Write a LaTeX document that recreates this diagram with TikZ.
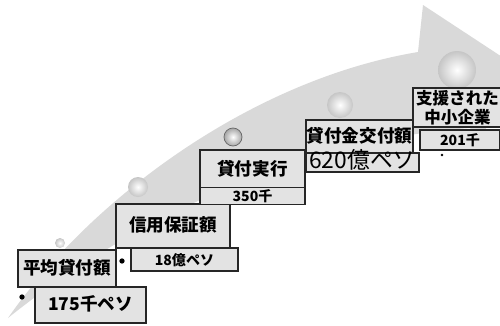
\documentclass[tikz,border=0pt]{standalone}
\usepackage{fontspec}
\setmainfont{Noto Sans CJK JP}

\begin{document}
\begin{tikzpicture}[x=0.02cm,y=-0.02cm,
	feld/.style={draw=black!85, line width=0.6pt, fill=gray!22,
	inner sep=0pt, outer sep=0pt, text height=1.5ex, text depth=.25ex,
	font=\bfseries\fontsize{10}{11}\selectfont},
	kugel/.style={shading=radial, inner color=white, outer color=gray!45},
	punkt/.style={fill=black, circle, minimum size=3pt, inner sep=0pt}]
\useasboundingbox (0,0) rectangle (500,325);
%Pfeil zeichnen
\fill [gray!30] (8,318) .. controls (90,200) and (250,80) .. (418,52)
	-- (423,5) -- (525,72) -- (478,140) -- (470,128)
	.. controls (300,140) and (130,220) .. (8,318) -- cycle;
%Kugeln auf dem Pfeil
\foreach \x/\y/\r in {60/243/5, 138/187/10, 340/105/13, 457/70/19}
\shade [kugel] (\x,\y) circle [radius=\r];
\shade [kugel, outer color=gray!70, draw=black!60] (233,137) circle [radius=9];
%Stufen einzeichnen:
\node [feld, minimum width=1.96cm, minimum height=0.74cm, name=avg] at (67,268.5) {平均貸付額};
\node [feld, minimum width=2.22cm, minimum height=0.72cm, name=avgwert] at (90.5,305) {175千ペソ};
\node [feld, minimum width=2.28cm, minimum height=0.88cm, name=garantie] at (173,226) {信用保証額};
\node [feld, minimum width=2.14cm, minimum height=0.46cm, name=garantiewert,
	font=\bfseries\fontsize{8}{9}\selectfont] at (184.5,259.5) {18億ペソ};
\node [feld, minimum width=2.10cm, minimum height=0.80cm, name=kredit] at (252.5,170) {貸付実行};
\node [feld, minimum width=2.10cm, minimum height=0.24cm, name=kreditwert,
	font=\bfseries\fontsize{8}{9}\selectfont] at (252.5,196) {350千};
\node [feld, minimum width=2.14cm, minimum height=0.66cm, name=auszahlung] at (359.5,136.5) {貸付金交付額};
\node [feld, minimum width=2.26cm, minimum height=0.38cm, name=auszahlungwert,
	font=\fontsize{13}{14}\selectfont] at (362.5,162.5) {620億ペソ};
\node [feld, minimum width=1.78cm, minimum height=0.78cm, align=center, text height=, text depth=,
	font=\bfseries\fontsize{9.4}{10.6}\selectfont,
	name=kmu] at (457.5,107.5) {支援された\\中小企業};
\node [feld, minimum width=1.60cm, minimum height=0.40cm, name=kmuwert,
	font=\bfseries\fontsize{8}{9}\selectfont] at (460,140) {201千};
%Punkte
\node [punkt, name=p1] at (22,297) {};
\node [punkt, name=p2] at (122,261) {};
\node [punkt, minimum size=1.5pt, name=p3] at (442,155) {};
\end{tikzpicture}
\end{document}
